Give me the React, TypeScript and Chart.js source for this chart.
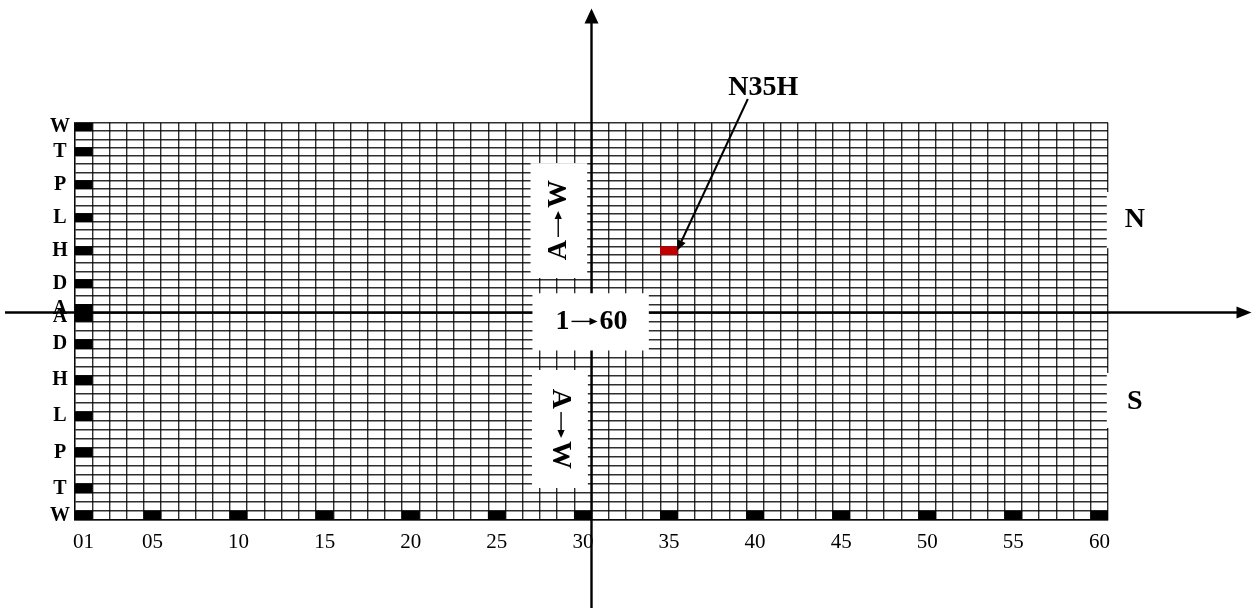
import React, { useEffect, useRef } from 'react';
import { Chart, registerables } from 'chart.js';

Chart.register(...registerables);

// ---- data ----
const ROW_LETTERS = ['A', 'B', 'C', 'D', 'E', 'F', 'G', 'H', 'I', 'J', 'K', 'L', 'M', 'N', 'O', 'P', 'Q', 'R', 'S', 'T', 'U', 'V', 'W'];
const COLUMN_LABELS = [
  '01', '02', '03', '04', '05', '06', '07', '08', '09', '10',
  '11', '12', '13', '14', '15', '16', '17', '18', '19', '20',
  '21', '22', '23', '24', '25', '26', '27', '28', '29', '30',
  '31', '32', '33', '34', '35', '36', '37', '38', '39', '40',
  '41', '42', '43', '44', '45', '46', '47', '48', '49', '50',
  '51', '52', '53', '54', '55', '56', '57', '58', '59', '60',
];
const X_TICKS_SHOWN = ['01', '05', '10', '15', '20', '25', '30', '35', '40', '45', '50', '55', '60'];
const Y_TICKS_SHOWN = ['A', 'D', 'H', 'L', 'P', 'T', 'W'];
const NORTH_MARKED_ROWS = ['W', 'T', 'P', 'L', 'H', 'D', 'A']; // in column 01
const SOUTH_MARKED_ROWS = ['A', 'D', 'H', 'L', 'P', 'T', 'W']; // in column 01
const BOTTOM_MARKED_COLUMNS = ['01', '05', '10', '15', '20', '25', '30', '35', '40', '45', '50', '55', '60']; // in south row W
const HIGHLIGHT_COLUMN = '35';
const HIGHLIGHT_ROW = 'H';
const HIGHLIGHT_TEXT = 'N35H';
const AXIS_TEXT_X = ['1', '60'];   // "1→60"
const AXIS_TEXT_Y = ['A', 'W'];    // "A→W"

const SERIF = '"Liberation Serif", "Times New Roman", serif';
const GRID_COLOR = 'rgba(0,0,0,0.82)';

const rowSpan = (letter: string) => {
  const i = ROW_LETTERS.indexOf(letter);
  return [i, i + 1];
};

function arrowHead(ctx: CanvasRenderingContext2D, tx: number, ty: number, angle: number, len: number, half: number) {
  ctx.save();
  ctx.translate(tx, ty);
  ctx.rotate(angle);
  ctx.beginPath();
  ctx.moveTo(0, 0);
  ctx.lineTo(-len, -half);
  ctx.lineTo(-len, half);
  ctx.closePath();
  ctx.fill();
  ctx.restore();
}

const overlayPlugin = {
  id: 'overlay',
  afterDraw(chart: any) {
    const { ctx } = chart;
    const sx = chart.scales.x;
    const yN = chart.scales.yN;
    const yS = chart.scales.yS;
    const eqY = yN.getPixelForValue(0);
    const axisX = sx.getPixelForValue(29.5);
    ctx.save();
    ctx.strokeStyle = '#000';
    ctx.fillStyle = '#000';
    ctx.lineWidth = 2.4;
    // horizontal axis
    ctx.beginPath();
    ctx.moveTo(5, eqY);
    ctx.lineTo(chart.width - 12, eqY);
    ctx.stroke();
    arrowHead(ctx, chart.width - 1.5, eqY, 0, 15, 6);
    // vertical axis
    ctx.beginPath();
    ctx.moveTo(axisX, chart.height - 5);
    ctx.lineTo(axisX, 20);
    ctx.stroke();
    arrowHead(ctx, axisX, 8.5, -Math.PI / 2, 15, 7);

    const box = (x0: number, x1: number, y0: number, y1: number) => {
      ctx.fillStyle = '#fff';
      ctx.fillRect(x0, y0, x1 - x0, y1 - y0);
    };
    const text = (t: string, cx: number, cy: number, rot: number, size: number) => {
      ctx.save();
      ctx.translate(cx, cy);
      ctx.rotate(rot);
      ctx.fillStyle = '#000';
      ctx.font = `bold ${size}px ${SERIF}`;
      ctx.textAlign = 'center';
      ctx.textBaseline = 'middle';
      ctx.fillText(t, 0, 0);
      ctx.restore();
    };
    // "left → right" with a drawn arrow
    const arrowText = (parts: string[], cx: number, cy: number, rot: number, size: number, arrowLen: number, gap: number) => {
      ctx.save();
      ctx.translate(cx, cy);
      ctx.rotate(rot);
      ctx.fillStyle = '#000';
      ctx.strokeStyle = '#000';
      ctx.font = `bold ${size}px ${SERIF}`;
      ctx.textBaseline = 'middle';
      ctx.textAlign = 'left';
      const w1 = ctx.measureText(parts[0]).width;
      const w2 = ctx.measureText(parts[1]).width;
      const total = w1 + gap + arrowLen + gap + w2;
      let x = -total / 2;
      ctx.fillText(parts[0], x, 0);
      x += w1 + gap;
      const ay = -size * 0.02;
      ctx.lineWidth = 1.4;
      ctx.beginPath();
      ctx.moveTo(x, ay);
      ctx.lineTo(x + arrowLen - 6, ay);
      ctx.stroke();
      arrowHead(ctx, x + arrowLen, ay, 0, 8, 3.6);
      x += arrowLen + gap;
      ctx.fillText(parts[1], x, 0);
      ctx.restore();
    };

    // north A->W box
    box(sx.getPixelForValue(25.96), sx.getPixelForValue(29.25), yN.getPixelForValue(18.1), yN.getPixelForValue(4.18));
    arrowText(AXIS_TEXT_Y, sx.getPixelForValue(27.6), yN.getPixelForValue(11.2), -Math.PI / 2, 28, 26, 3);
    // south A->W box
    box(sx.getPixelForValue(26.04), sx.getPixelForValue(29.29), yS.getPixelForValue(6.37), yS.getPixelForValue(19.45));
    arrowText(AXIS_TEXT_Y, sx.getPixelForValue(27.7), yS.getPixelForValue(12.9), Math.PI / 2, 28, 26, 3);
    // 1->60 box
    box(sx.getPixelForValue(26.07), sx.getPixelForValue(32.83), yN.getPixelForValue(2.33), yS.getPixelForValue(4.21));
    arrowText(AXIS_TEXT_X, axisX, yS.getPixelForValue(1.05), 0, 28, 26, 2);
    // N / S boxes
    const rx = sx.getPixelForValue(59.5) - 1.2;
    box(rx, rx + 56, yN.getPixelForValue(14.6), yN.getPixelForValue(7.8));
    text('N', rx + 28, yN.getPixelForValue(11.2), 0, 28);
    box(rx, rx + 56, yS.getPixelForValue(6.7), yS.getPixelForValue(12.8));
    text('S', rx + 28, yS.getPixelForValue(9.85), 0, 28);

    // highlight label and arrow
    const ci = COLUMN_LABELS.indexOf(HIGHLIGHT_COLUMN);
    const ri = ROW_LETTERS.indexOf(HIGHLIGHT_ROW);
    const tipX = sx.getPixelForValue(ci + 0.46);
    const tipY = yN.getPixelForValue(ri + 0.45);
    const sX = sx.getPixelForValue(ci + 4.58);
    const sY = yN.getPixelForValue(ri + 18.87);
    text(HIGHLIGHT_TEXT, sx.getPixelForValue(ci + 5.48), yN.getPixelForValue(ri + 20.27), 0, 28);
    ctx.strokeStyle = '#000';
    ctx.fillStyle = '#000';
    ctx.lineWidth = 2;
    const ang = Math.atan2(tipY - sY, tipX - sX);
    ctx.beginPath();
    ctx.moveTo(sX, sY);
    ctx.lineTo(tipX - Math.cos(ang) * 8, tipY - Math.sin(ang) * 8);
    ctx.stroke();
    arrowHead(ctx, tipX, tipY, ang, 11, 4.5);
    ctx.restore();
  },
};

export default function App() {
  const ref = useRef<HTMLCanvasElement | null>(null);
  useEffect(() => {
    if (!ref.current) return;
    const northCells = NORTH_MARKED_ROWS.map((r) => ({ x: '01', y: rowSpan(r) }));
    const southCells = [
      ...SOUTH_MARKED_ROWS.map((r) => ({ x: '01', y: rowSpan(r) })),
      ...BOTTOM_MARKED_COLUMNS.map((c) => ({ x: c, y: rowSpan('W') })),
    ];
    const highlightCells = [{ x: HIGHLIGHT_COLUMN, y: rowSpan(HIGHLIGHT_ROW) }];
    const barCommon = {
      type: 'bar' as const,
      xAxisID: 'x',
      grouped: false,
      barPercentage: 1,
      categoryPercentage: 1,
      borderWidth: 0,
    };
    const yCommon = (letterFirstAtBottom: boolean, weight: number, layoutWeight: number) => ({
      type: 'linear' as const,
      position: 'left' as const,
      stack: 'rows',
      stackWeight: weight,
      weight: layoutWeight,
      min: 0,
      max: 23,
      reverse: !letterFirstAtBottom,
      afterBuildTicks: (s: any) => {
        s.ticks = ROW_LETTERS.map((_, i) => ({ value: i + 0.5 }));
      },
      afterFit: (s: any) => {
        s.width = 75;
      },
      grid: { offset: true, color: GRID_COLOR, lineWidth: 1.4, drawTicks: false },
      border: { color: GRID_COLOR, width: 1.4 },
      ticks: {
        autoSkip: false,
        crossAlign: 'center' as const,
        padding: 5,
        color: '#000',
        font: { family: SERIF, size: 20, weight: 'bold' as const },
        callback: (v: any) => {
          const l = ROW_LETTERS[Math.floor(Number(v))];
          return Y_TICKS_SHOWN.includes(l) ? l : '';
        },
      },
    });
    const chart = new Chart(ref.current, {
      type: 'bar',
      data: {
        labels: COLUMN_LABELS,
        datasets: [
          { ...barCommon, label: 'north', data: northCells as any, yAxisID: 'yN', backgroundColor: '#000' },
          { ...barCommon, label: 'south', data: southCells as any, yAxisID: 'yS', backgroundColor: '#000' },
          { ...barCommon, label: HIGHLIGHT_TEXT, data: highlightCells as any, yAxisID: 'yN', backgroundColor: '#c00000' },
        ],
      },
      options: {
        animation: false,
        responsive: true,
        maintainAspectRatio: false,
        layout: { padding: { left: 0, right: 145, top: 122.7, bottom: 0 } },
        plugins: { legend: { display: false }, tooltip: { enabled: false } },
        scales: {
          x: {
            type: 'category',
            offset: true,
            afterFit: (s: any) => {
              s.height = 93;
            },
            grid: { offset: true, color: GRID_COLOR, lineWidth: 1.4, drawTicks: false },
            border: { color: GRID_COLOR, width: 1.4 },
            ticks: {
              autoSkip: false,
              maxRotation: 0,
              minRotation: 0,
              padding: 10,
              color: '#000',
              font: { family: SERIF, size: 21 },
              callback: (_v: any, i: number) => (X_TICKS_SHOWN.includes(COLUMN_LABELS[i]) ? COLUMN_LABELS[i] : ''),
            },
          },
          yN: yCommon(true, 189.8, 1) as any,
          yS: yCommon(false, 207.5, 0) as any,
        },
      },
      plugins: [overlayPlugin],
    });
    return () => chart.destroy();
  }, []);
  return (
    <div style={{ position: 'absolute', left: 0, top: 0, width: 1253, height: 613, background: '#fff' }}>
      <canvas ref={ref} />
    </div>
  );
}
